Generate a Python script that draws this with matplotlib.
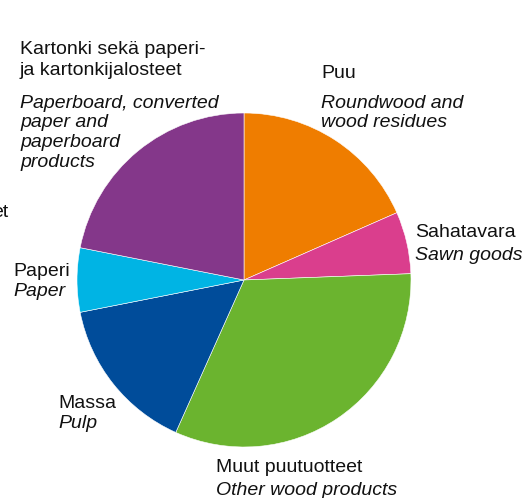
import matplotlib.pyplot as plt

plt.rcParams['font.family'] = ['Liberation Sans', 'DejaVu Sans']

labels_fi = [['Puu'], ['Sahatavara'], ['Muut puutuotteet'], ['Massa'], ['Paperi'],
             ['Kartonki sekä paperi-', 'ja kartonkijalosteet']]
labels_en = [['Roundwood and', 'wood residues'], ['Sawn goods'], ['Other wood products'],
             ['Pulp'], ['Paper'],
             ['Paperboard, converted', 'paper and', 'paperboard', 'products']]
shares = [18.4, 6.0, 32.3, 15.2, 6.2, 21.9]
colors = ['#EF7D00', '#DA3E8D', '#6BB42F', '#004C9A', '#00B4E4', '#84378A']

# label placement in pixels from top-left: left x, baselines of fi lines, baselines of en lines
label_x = [321, 415, 216, 58, 13, 20]
base_fi = [[78], [236.5], [471.5], [408.5], [275.5], [54, 75]]
base_en = [[107.5, 126.5], [259.5], [495], [428], [296.5], [107.5, 127, 146.5, 166.5]]

W, H = 525, 498
fig = plt.figure(figsize=(W / 100, H / 100), dpi=100)
ax = fig.add_axes([0, 0, 1, 1])

ax.pie(shares, colors=colors, startangle=90, counterclock=False,
       center=(244, H - 280), radius=167,
       wedgeprops=dict(edgecolor='white', linewidth=0.4))
ax.set_xlim(0, W)
ax.set_ylim(0, H)
ax.set_aspect('equal')
ax.axis('off')

fs = 14
for x, fi, en, bf, be in zip(label_x, labels_fi, labels_en, base_fi, base_en):
    for s, y in zip(fi, bf):
        ax.text(x, H - y, s, fontsize=fs, va='baseline', ha='left', color='#111111')
    for s, y in zip(en, be):
        ax.text(x, H - y, s, fontsize=fs, va='baseline', ha='left',
                style='italic', color='#111111')

# cut-off label from the neighbouring chart at the left edge
ax.text(8, H - 217, 'et', fontsize=fs, va='baseline', ha='right', color='#111111')

fig.savefig('out.png', dpi=100)
